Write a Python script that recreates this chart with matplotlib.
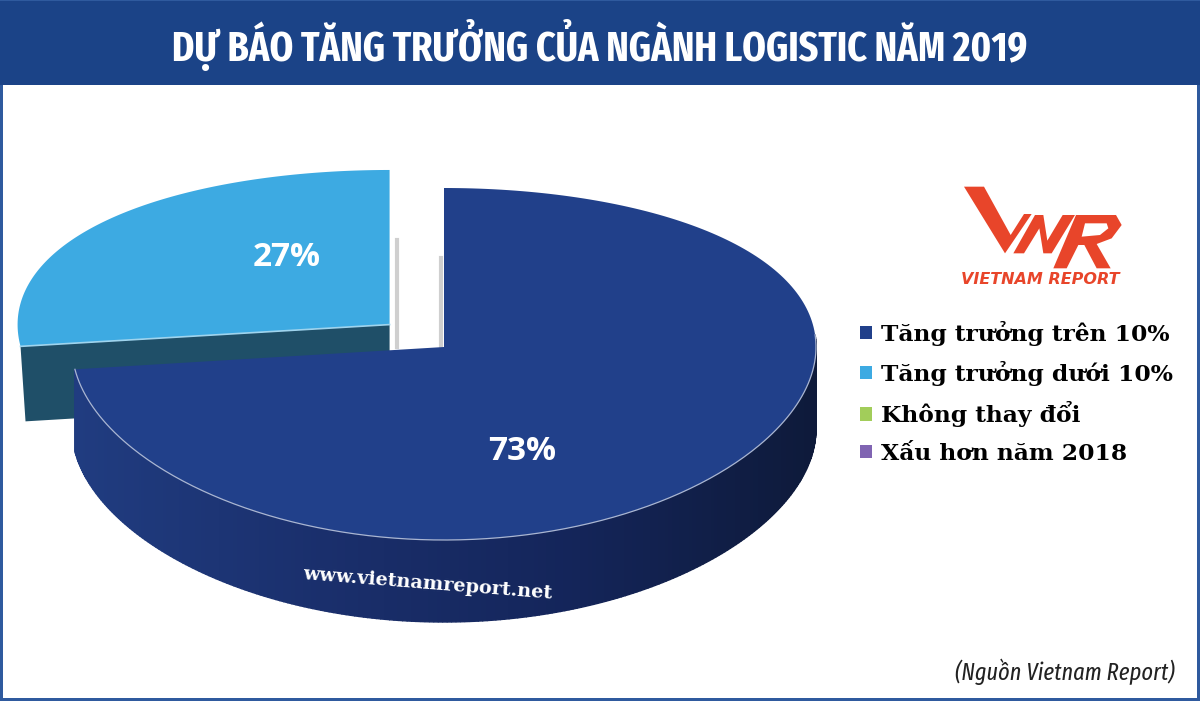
import matplotlib
matplotlib.use('Agg')
import matplotlib.pyplot as plt
import numpy as np
from matplotlib.colors import LinearSegmentedColormap
from matplotlib.patches import Polygon, Rectangle

title = 'DỰ BÁO TĂNG TRƯỞNG CỦA NGÀNH LOGISTIC NĂM 2019'
categories = ['Tăng trưởng trên 10%', 'Tăng trưởng dưới 10%', 'Không thay đổi', 'Xấu hơn năm 2018']
shares = [73, 27, 0, 0]
explode = [0, 0.195, 0, 0]
colors = ['#21408a', '#3daae2', '#a2cd5a', '#8064b2']
source = '(Nguồn Vietnam Report)'
website = 'www.vietnamreport.net'
logo_name = 'VIETNAM REPORT'

narrower = ['Fira Sans Extra Condensed', 'Liberation Sans', 'DejaVu Sans']
serif = ['DejaVu Serif']

# pie is only used for the wedge geometry, then redrawn tilted
fig = plt.figure(figsize=(12, 7.01), dpi=100)
pie_ax = fig.add_axes([0, 0, 0.1, 0.1])
wedges, _ = pie_ax.pie(shares, explode=explode, colors=colors, startangle=90, counterclock=False)
pie_ax.set_visible(False)

ax = fig.add_axes([0, 0, 1, 1])
ax.set_xlim(0, 1200)
ax.set_ylim(701, 0)
ax.axis('off')


def tilt(x, y):
    # unit circle -> pixels, a bit of perspective in y
    return 444 + 372 * x, 347 - 176 * y + 17 * y ** 2


def top_outline(w, n=120):
    th = np.radians(np.linspace(w.theta1, w.theta2, n))
    x = w.center[0] + w.r * np.cos(th)
    y = w.center[1] + w.r * np.sin(th)
    px, py = tilt(np.r_[w.center[0], x], np.r_[w.center[1], y])
    return np.column_stack([px, py])


def logo_xy(pts):
    return [(840 + x / 3, 170 + y / 3) for x, y in pts]


# frame
ax.add_patch(Rectangle((0, 0), 1200, 701, fc='#2f5a9e', ec='none'))
ax.add_patch(Rectangle((2.5, 85), 1194, 613, fc='white', ec='none'))
ax.add_patch(Rectangle((0, 1), 1200, 84, fc='#1b4387', ec='none'))
ax.text(600, 45, title, color='white', ha='center', va='center', fontsize=29.6, fontweight='bold', family=narrower)

# shadows behind the gap
ax.plot([397, 397], [240, 347], color='#cfcfcf', lw=3, zorder=1)
ax.plot([441, 441], [258, 347], color='#cfcfcf', lw=3, zorder=1)

# exploded slice
small = wedges[1]
pts = top_outline(small)
apex, left = pts[0], pts[-1] if pts[-1][0] < pts[1][0] else pts[1]
ax.add_patch(Polygon([apex, left, left + [5, 75], apex + [0, 75]], fc='#1f4f68', ec='none', zorder=2))
ax.add_patch(Polygon(pts, fc=colors[1], ec='none', zorder=3))
ax.plot([apex[0], left[0]], [apex[1], left[1]], color='#9fd4ee', lw=1.2, zorder=3)

# main slice wall, gradient strips along the rim
main = wedges[0]
depth = 82
wall = LinearSegmentedColormap.from_list('wall', ['#203c80', '#1a2f6c', '#14255a', '#0e1a3a'])
th = np.radians(np.linspace(main.theta1, 4, 260))
wx, wy = tilt(main.r * np.cos(th), main.r * np.sin(th))
for i in range(len(th) - 1):
    quad = [(wx[i], wy[i]), (wx[i + 1], wy[i + 1]), (wx[i + 1], wy[i + 1] + depth), (wx[i], wy[i] + depth)]
    c = wall((wx[i] - wx.min()) / (wx.max() - wx.min()))
    ax.add_patch(Polygon(quad, fc=c, ec=c, lw=1, zorder=4))
ax.add_patch(Polygon(top_outline(main, 240), fc=colors[0], ec='none', zorder=5))
ax.plot(wx, wy, color='#aab6d2', lw=0.9, zorder=6)

# value labels
ax.text(287, 257, '%d%%' % shares[1], color='white', ha='center', va='center', fontsize=24, fontweight='bold', family='Open Sans', zorder=7)
ax.text(522, 452, '%d%%' % shares[0], color='white', ha='center', va='center', fontsize=24, fontweight='bold', family='Open Sans', zorder=7)
ax.text(428, 584, website, color='white', ha='center', va='center', rotation=-4.5, fontsize=13.9, fontweight='bold', family=serif, zorder=7)

# logo
logo_red = '#e8452a'
ax.add_patch(Polygon(logo_xy([(372, 50), (432, 50), (512, 195), (552, 132), (575, 132), (495, 250)]), fc=logo_red, ec='none'))
ax.add_patch(Polygon(logo_xy([(520, 250), (585, 135), (610, 135), (622, 212), (668, 135), (705, 135), (635, 250), (610, 250), (598, 175), (552, 250)]), fc=logo_red, ec='none'))
ax.add_patch(Polygon(logo_xy([(708, 135), (828, 135), (845, 165), (815, 205), (770, 222), (812, 295), (770, 295), (733, 225), (715, 225), (680, 295), (640, 295)]), fc=logo_red, ec='none'))
ax.add_patch(Polygon(logo_xy([(735, 160), (800, 160), (805, 175), (780, 195), (725, 200)]), fc='white', ec='none'))
ax.text(1040, 279, logo_name, color=logo_red, ha='center', va='center', fontsize=11.5, fontweight='bold', style='italic', family='DejaVu Sans')

# legend
ax.legend(wedges, categories, loc='upper left', bbox_to_anchor=(860 / 1200, 1 - 320.5 / 701), frameon=False,
          handlelength=0.5, handleheight=0.5, handletextpad=0.4, labelspacing=0.66, borderpad=0, borderaxespad=0,
          prop={'family': serif, 'weight': 'bold', 'size': 16.8})

ax.text(1175, 672, source, color='#222222', ha='right', va='center', fontsize=17.5, style='italic', family=narrower)

fig.savefig('out.png', dpi=100)
